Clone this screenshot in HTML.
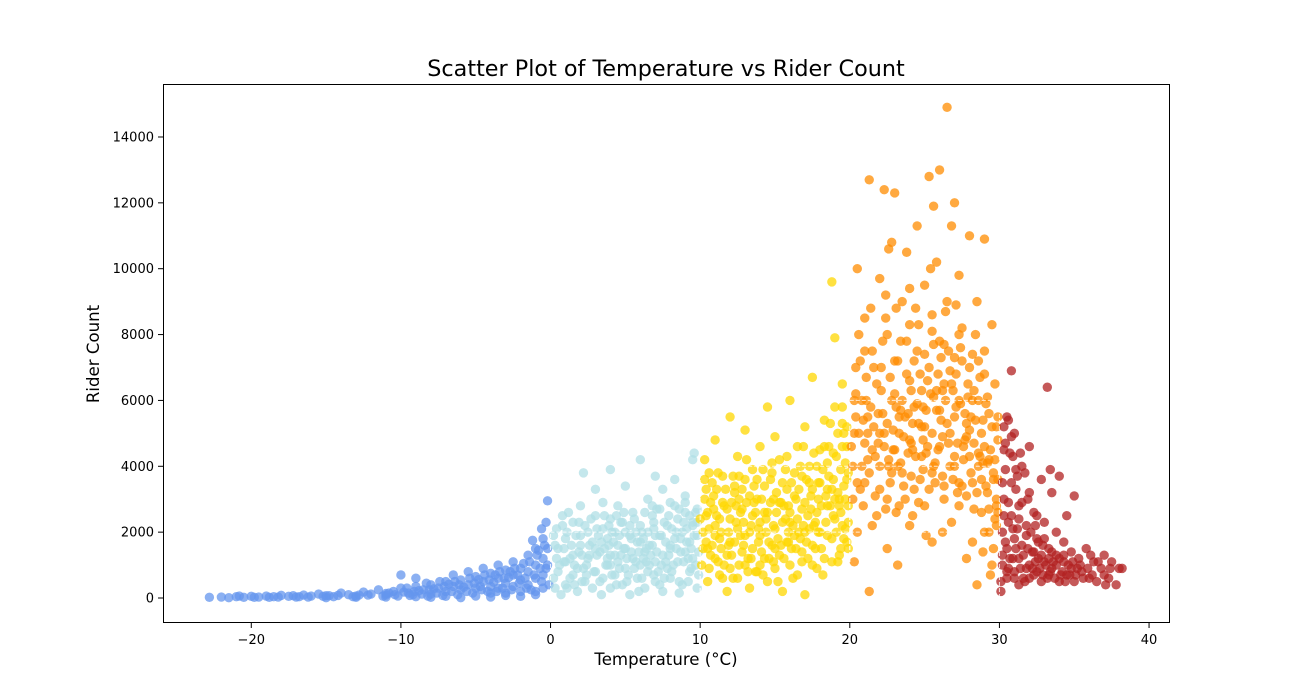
<!DOCTYPE html>
<html><head><meta charset="utf-8">
<style>
body{margin:0;background:#fff;}
svg{display:block;font-family:"DejaVu Sans","Liberation Sans",sans-serif;}
</style></head>
<body>
<svg id="chart" width="1300" height="700">
<rect width="1300" height="700" fill="#fff"/>
<text x="666" y="76" text-anchor="middle" font-size="22.3" fill="#000">Scatter Plot of Temperature vs Rider Count</text>
<g id="points"></g>
<g id="boxes"></g>
<rect x="163.5" y="84.5" width="1006" height="538" fill="none" stroke="#000" stroke-width="1"/>
<g id="xaxis"></g>
<g id="yaxis"></g>
<text x="666" y="665" text-anchor="middle" font-size="16.6">Temperature (°C)</text>
<text transform="translate(99,354) rotate(-90)" text-anchor="middle" font-size="16.6">Rider Count</text>
</svg>
<script>
const xTicks=[-20,-10,0,10,20,30,40];
const yTicks=[0,2000,4000,6000,8000,10000,12000,14000];
const bandColors=["#6495ed","#b0dfe5","#ffd700","#ff8c00","#b22222"];
const coldPts=[[-22.8,20],[-22,30],[-21.5,10],[-21,40],[-20.5,20],[-20,50],[-19.5,30],[-19,60],[-18.5,40],[-18,80],[-17.5,50],[-17,30],[-16.5,90],[-16,60],[-15.5,120],[-15,70],[-14.5,40],[-14,150],[-13.5,100],[-13,60],[-12.5,180],[-12,120],[-11.5,250],[-11,90],[-10.5,200],[-10,300],[-10,700],[-9.5,150],[-9,350],[-9,600],[-8.5,250],[-8,400],[-8,120],[-7.5,300],[-7,500],[-7,200],[-6.5,700],[-6.5,350],[-6,250],[-6,550],[-5.5,800],[-5.5,400],[-5,300],[-5,650],[-4.5,900],[-4.5,500],[-4,350],[-4,750],[-4,150],[-3.5,1000],[-3.5,600],[-3.5,300],[-3,850],[-3,450],[-3,150],[-2.5,1100],[-2.5,700],[-2.5,350],[-2,900],[-2,550],[-2,200],[-1.5,1300],[-1.5,800],[-1.5,400],[-1,1500],[-1,1000],[-1,600],[-1,200],[-0.5,1800],[-0.5,1200],[-0.5,700],[-0.3,2300],[-0.2,2950],[-0.5,300],[-1.8,1050],[-2.8,620],[-3.8,480],[-4.8,560],[-5.8,330],[-6.8,420],[-7.8,280],[-8.8,220],[-9.8,180],[-11,140],[-12.8,90],[-14.8,70],[-16.8,40],[-18.8,20],[-1.2,1750],[-0.8,1450],[-15,10],[-13,20],[-11,30],[-9,40],[-7,50],[-5,60],[-3,80],[-1,100],[-8,20],[-6,10],[-4,30],[-2,50],[-0.3,900],[-0.2,1500],[-0.6,500],[-1.3,250],[-2.2,700],[-3.2,300],[-4.2,200],[-5.2,150],[-6.2,100],[-7.2,80],[-8.2,60],[-9.2,100],[-10.2,60]];
const coldExtra=[[-20.8,60],[-19.8,20],[-18.2,30],[-17.2,70],[-16.2,30],[-15.2,50],[-14.2,80],[-13.2,40],[-12.2,90],[-11.2,60],[-10.8,150],[-10.4,100],[-9.6,300],[-9.4,80],[-8.6,120],[-8.3,450],[-7.6,150],[-7.4,500],[-6.6,200],[-6.4,500],[-5.6,200],[-5.4,600],[-4.6,250],[-4.4,700],[-3.6,200],[-3.4,800],[-2.6,250],[-2.4,900],[-1.6,300],[-1.4,1100],[-0.7,900],[-0.4,1600],[-0.2,1000],[-0.1,400],[-1.1,700],[-2.1,450],[-3.1,600],[-4.1,550],[-5.1,450],[-6.1,400],[-7.1,350],[-8.1,250],[-9.1,200],[-0.9,1300],[-0.6,2100],[-1.7,600],[-2.7,800],[-3.7,700],[-4.7,350]];
const coolPts=[[0.3,300],[0.5,800],[0.5,1500],[0.8,2200],[1,400],[1,1100],[1,1800],[1.3,600],[1.5,1300],[1.5,2300],[1.8,200],[1.8,900],[2,1600],[2,2800],[2.2,3800],[2.3,500],[2.5,1200],[2.5,2000],[2.8,300],[2.8,1700],[3,800],[3,2500],[3,3300],[3.3,1400],[3.5,600],[3.5,2100],[3.5,2900],[3.8,1000],[3.8,1800],[4,300],[4,1300],[4,2400],[4,3900],[4.3,700],[4.3,2000],[4.5,1100],[4.5,1600],[4.5,2800],[4.8,400],[4.8,2300],[5,900],[5,1500],[5,3400],[5.3,1900],[5.3,100],[5.5,1200],[5.5,2600],[5.8,600],[5.8,1700],[6,2200],[6,1000],[6,4200],[6.3,1400],[6.3,300],[6.5,2000],[6.5,800],[6.5,3000],[6.8,1600],[6.8,2500],[7,1100],[7,500],[7,3700],[7.3,1900],[7.3,2700],[7.5,1300],[7.5,200],[7.5,3300],[7.8,900],[7.8,2200],[8,1500],[8,2900],[8,600],[8.3,1800],[8.3,3600],[8.5,1100],[8.5,2400],[8.8,400],[8.8,2000],[9,1400],[9,3100],[9,2600],[9.3,800],[9.3,1700],[9.5,2300],[9.5,4200],[9.5,1200],[9.8,2700],[9.8,300],[9.8,1900],[9.6,4400],[1.2,2600],[2.7,2400],[3.7,1000],[4.7,1300],[5.7,2000],[6.7,1300],[7.7,1700],[8.7,1400],[9.7,1000],[0.4,1200],[0.2,1900],[1.6,1000],[2.4,700],[3.2,1900],[4.2,1700],[5.2,700],[6.2,1800],[7.2,800],[8.2,1000],[9.2,500],[0.7,100],[3.4,100],[5.9,200],[8.6,150],[4.4,2500],[6.9,2300],[2.1,1300],[7.9,2500],[9.1,2100],[1.4,1600],[3.9,1600],[5.4,1400],[6.4,1100],[8.4,2000],[9.4,1500]];
const coolExtra=[[0.2,600],[0.4,2100],[0.6,1000],[0.9,1500],[1.1,300],[1.1,2000],[1.3,1200],[1.5,700],[1.7,1900],[1.9,1400],[2.1,500],[2.3,2200],[2.4,1000],[2.6,1600],[2.9,800],[3.1,1300],[3.1,2100],[3.3,500],[3.6,1500],[3.6,2500],[3.8,1200],[4.1,700],[4.1,2000],[4.3,1300],[4.6,900],[4.6,1900],[4.9,1500],[4.9,2600],[5.1,500],[5.1,1200],[5.4,1800],[5.6,900],[5.6,2400],[5.9,1400],[6.1,600],[6.1,2000],[6.3,2600],[6.6,1000],[6.6,1600],[6.9,700],[6.9,2100],[7.1,1400],[7.1,2700],[7.4,1000],[7.4,1900],[7.6,2300],[7.6,600],[7.9,1300],[8.1,2100],[8.1,800],[8.4,1500],[8.6,2700],[8.6,500],[8.9,1100],[8.9,2300],[9.1,1700],[9.3,2500],[9.4,900],[9.6,1900],[9.7,2600],[9.9,1400],[9.9,700],[0.3,1600],[0.8,2500],[1.9,2300],[2.2,900],[3.4,1700],[4.4,400],[5.3,2200],[6.8,2800],[7.3,400],[8.3,2800],[9.2,1200],[2.6,1300],[3.9,2200],[5.7,1100],[6.4,1500],[7.7,1100],[8.7,1800],[1.6,400],[4.7,2300],[6.2,1200],[9.0,2900],[0.9,1100],[2.0,1900],[3.0,1500],[4.0,1000],[5.0,2000],[6.0,1700],[7.0,1900],[8.0,1600],[9.5,2200],[9.8,2300]];
const mildPts=[[10.1,1000],[10.2,2000],[10.3,3000],[10.3,4200],[10.5,500],[10.5,1500],[10.5,2600],[10.8,3500],[11,1200],[11,2200],[11,4800],[11.3,700],[11.3,1800],[11.5,2900],[11.5,3700],[11.8,1300],[11.8,200],[12,2400],[12,5500],[12,900],[12.3,1700],[12.3,3200],[12.5,4300],[12.5,600],[12.5,2100],[12.8,1400],[12.8,2700],[13,3600],[13,1000],[13,5100],[13.3,2000],[13.3,300],[13.5,2500],[13.5,1500],[13.5,3900],[13.8,800],[13.8,3000],[14,1900],[14,4600],[14,2300],[14.3,1200],[14.3,3400],[14.5,500],[14.5,2600],[14.5,5800],[14.8,1600],[14.8,3800],[15,2100],[15,900],[15,4900],[15.3,2900],[15.3,1300],[15.5,3500],[15.5,200],[15.5,2300],[15.8,1700],[15.8,4300],[16,2600],[16,1000],[16,6000],[16.3,3100],[16.3,1900],[16.5,4600],[16.5,700],[16.5,2400],[16.8,3700],[16.8,1400],[17,2900],[17,5200],[17,100],[17.3,2100],[17.3,4000],[17.5,1600],[17.5,3300],[17.5,6700],[17.8,2600],[17.8,900],[18,4500],[18,2000],[18,3500],[18.3,1200],[18.3,5400],[18.5,2800],[18.5,4100],[18.8,9600],[18.8,1800],[18.8,3300],[19,2400],[19,5800],[19,7900],[19.3,3000],[19.3,1300],[19.5,4600],[19.5,2200],[19.5,6500],[19.8,3600],[19.8,1700],[19.8,5200],[19.9,2800],[19.7,4100],[10.6,3800],[11.6,1000],[12.6,3700],[13.6,2900],[14.6,1200],[15.6,2800],[16.6,3300],[17.6,2200],[18.6,3700],[19.6,3400],[10.9,2700],[11.9,2000],[12.9,2300],[13.9,1700],[14.9,3000],[15.9,2000],[16.9,2200],[17.9,3000],[18.9,2500],[19.9,1500],[10.4,1700],[11.4,1500],[12.4,2800],[13.4,1200],[14.4,2000],[15.4,1600],[16.4,1500],[17.4,2700],[18.4,2300],[19.4,3900],[11.1,3300],[12.2,600],[14.2,700],[16.2,600],[18.2,700],[19.2,1100],[17.2,1200],[15.2,500],[13.2,800],[10.7,1300],[19.6,5000],[18.9,4400],[19.3,2800],[12.7,1900],[16.7,1800]];
const mildExtra=[[10.2,1500],[10.4,2500],[10.4,3300],[10.6,900],[10.6,2100],[10.8,1600],[10.9,3100],[11.1,2500],[11.2,1100],[11.2,3800],[11.4,2000],[11.5,600],[11.6,2800],[11.7,3300],[11.9,1600],[12.1,2900],[12.1,1300],[12.2,3700],[12.4,2300],[12.6,1000],[12.6,3000],[12.7,2600],[12.9,1600],[13.1,2900],[13.1,4200],[13.2,1200],[13.4,2200],[13.6,3400],[13.7,800],[13.7,2600],[13.9,2100],[14.1,3000],[14.1,1400],[14.2,3900],[14.4,2400],[14.6,1700],[14.7,2900],[14.7,3600],[14.9,1100],[15.1,2600],[15.1,3200],[15.2,1800],[15.4,2900],[15.6,1200],[15.7,3900],[15.7,2400],[15.9,2800],[16.1,1500],[16.1,3500],[16.2,2200],[16.4,3000],[16.6,2000],[16.7,4000],[16.8,2700],[17.1,1700],[17.1,3600],[17.2,2500],[17.4,3100],[17.5,1000],[17.6,4400],[17.7,2300],[17.9,3500],[18.1,2800],[18.1,1500],[18.2,3900],[18.4,3100],[18.5,1900],[18.6,4600],[18.7,2800],[18.9,3600],[19.1,2000],[19.1,4300],[19.2,3200],[19.4,2600],[19.5,5300],[19.6,1800],[19.7,3000],[19.8,4600],[19.9,3800],[19.9,2300],[19.5,5800],[19.2,5000],[18.7,5300],[18.3,4600],[17.8,4000],[17.3,3500],[16.9,4600],[16.3,3800],[15.8,3300],[15.3,4200],[14.8,4100],[14.3,2600],[13.3,3100],[12.3,3400],[11.3,2400],[10.3,3600],[10.7,2900],[11.8,2700],[12.8,3300],[13.8,3600],[14.9,2200],[15.9,1700],[16.8,1100],[17.7,1500],[18.8,1100],[19.4,1500],[19.7,2100],[19.0,3000],[18.5,3300],[17.9,2000],[17.0,2000],[16.0,2300],[15.0,1500],[14.0,1000],[13.0,1900],[12.0,1700],[11.0,1900],[10.0,2400]];
const warmPts=[[20.2,3000],[20.3,5000],[20.4,7000],[20.5,10000],[20.5,2000],[20.8,4000],[20.8,6000],[21,8500],[21,3500],[21.2,5500],[21.3,12700],[21.3,200],[21.5,4500],[21.5,7500],[21.8,2500],[21.8,6500],[22,9700],[22,4000],[22.3,12400],[22.3,5000],[22.5,3000],[22.5,8000],[22.5,1500],[22.8,6000],[22.8,10800],[23,4500],[23,12300],[23,7200],[23.3,2800],[23.3,5500],[23.5,9000],[23.5,3800],[23.8,6800],[23.8,10500],[24,4800],[24,2200],[24,8300],[24.3,5800],[24.3,3300],[24.5,7500],[24.5,11300],[24.8,4300],[24.8,6300],[25,9500],[25,2800],[25,5200],[25.3,12800],[25.3,7000],[25.5,3800],[25.5,8600],[25.5,1700],[25.8,5700],[25.8,10200],[26,13000],[26,4600],[26,7800],[26.3,3000],[26.3,6500],[26.5,9000],[26.5,14900],[26.7,5000],[26.8,11300],[26.8,2300],[27,7300],[27,4000],[27,12000],[27.3,6000],[27.3,9800],[27.5,3400],[27.5,8200],[27.8,5300],[27.8,1200],[28,11000],[28,7000],[28,4300],[28.3,2700],[28.3,6300],[28.5,9000],[28.5,400],[28.8,5000],[28.8,3600],[29,10900],[29,7500],[29,2000],[29.3,5600],[29.3,4200],[29.5,8300],[29.5,1000],[29.7,6500],[29.8,3000],[29.9,4800],[20.3,1100],[20.6,8000],[21.1,6000],[21.6,5200],[22.1,7000],[22.6,4200],[23.1,5800],[23.6,4900],[24.1,6300],[24.6,5300],[25.1,4400],[25.6,6100],[26.1,5400],[26.6,4700],[27.1,5800],[27.6,4600],[28.1,5500],[28.6,4400],[29.1,5900],[29.6,3800],[20.7,3300],[21.2,4200],[21.7,3100],[22.2,5600],[22.7,3500],[23.2,4000],[23.7,3000],[24.2,4500],[24.7,3600],[25.2,6600],[25.7,4100],[26.2,3700],[26.7,6900],[27.2,3200],[27.7,4800],[28.2,3500],[28.7,6700],[29.2,3200],[29.7,2400],[20.9,5400],[21.9,4700],[22.9,5100],[23.9,5600],[24.9,5800],[25.9,6800],[26.9,6300],[27.9,6100],[28.9,4100],[29.9,5500],[22.4,9200],[23.4,7800],[24.4,8800],[25.4,10000],[26.4,8700],[27.4,7600],[28.4,8000],[24.2,2500],[26.2,2000],[28.2,1700],[23.2,1000],[25.1,1900],[27.3,2800],[29.4,700],[20.1,4600],[20.4,6200],[21.4,8800],[22.6,10600],[24.0,9400],[25.6,11900],[27.1,8900],[28.6,7200],[29.8,2200],[29.8,5200]];
const warmExtra=[[20.2,4000],[20.3,6000],[20.5,3500],[20.6,5000],[20.7,7200],[20.9,2800],[21.0,4700],[21.1,6700],[21.3,3800],[21.4,5800],[21.5,2200],[21.6,7000],[21.7,4300],[21.9,5600],[22.0,3300],[22.1,6300],[22.2,7800],[22.3,4600],[22.4,2700],[22.5,5300],[22.7,6700],[22.8,3800],[22.9,4500],[23.0,6200],[23.1,2600],[23.2,7200],[23.3,5000],[23.4,4100],[23.5,6000],[23.6,3400],[23.7,5500],[23.8,7800],[23.9,4400],[24.0,6600],[24.1,3700],[24.2,5300],[24.3,7200],[24.4,4300],[24.5,5900],[24.6,2900],[24.7,6800],[24.8,5200],[24.9,3900],[25.0,7400],[25.1,5700],[25.2,4600],[25.3,3300],[25.4,6200],[25.5,5000],[25.6,7700],[25.7,3500],[25.8,6300],[25.9,4500],[26.0,5700],[26.1,7300],[26.2,4900],[26.3,3400],[26.4,6000],[26.5,5300],[26.6,7500],[26.7,4000],[26.8,6500],[26.9,3600],[27.0,5500],[27.1,6800],[27.2,4700],[27.3,3500],[27.4,5900],[27.5,7200],[27.6,4200],[27.7,5600],[27.8,3100],[27.9,6500],[28.0,5100],[28.1,3800],[28.2,6000],[28.3,4700],[28.4,5400],[28.5,3200],[28.6,6000],[28.7,4300],[28.8,2600],[28.9,5400],[29.0,4600],[29.1,3400],[29.2,6100],[29.3,2700],[29.4,4500],[29.5,5200],[29.6,3600],[29.7,4200],[29.8,2800],[29.9,3600],[20.4,5500],[21.2,5000],[22.0,5000],[22.6,4000],[23.4,5700],[24.1,4700],[24.9,4800],[25.6,4000],[26.2,6300],[27.0,4300],[27.8,4900],[28.6,4000],[29.2,4100],[29.9,2600],[29.6,1500],[29.3,2000],[28.9,1400],[21.0,7500],[22.4,8500],[23.1,8800],[24.6,8300],[25.5,8100],[26.3,7700],[27.3,8000],[28.2,7400],[29.0,6800]];
const hotPts=[[30.1,200],[30.2,1000],[30.2,2000],[30.3,3000],[30.3,4500],[30.5,5500],[30.5,600],[30.5,1500],[30.8,2500],[30.8,6900],[30.8,3500],[31,800],[31,1800],[31,5000],[31.3,1200],[31.3,2800],[31.3,400],[31.5,4000],[31.5,1600],[31.8,900],[31.8,2200],[32,3200],[32,600],[32,4600],[32.3,1400],[32.3,2600],[32.5,800],[32.5,1800],[32.8,3600],[32.8,500],[33,1100],[33,2300],[33.2,6400],[33.3,700],[33.3,1500],[33.5,3200],[33.5,900],[33.8,1300],[33.8,2000],[34,500],[34,3700],[34.3,1100],[34.3,1700],[34.5,700],[34.5,2500],[34.8,1400],[34.8,900],[35,3100],[35,500],[35.3,1200],[35.5,800],[35.8,1500],[36,600],[36.3,1100],[36.5,500],[36.8,900],[37,1300],[37.3,600],[37.5,1100],[37.8,400],[38,900],[38.2,900],[30.4,3900],[30.6,2300],[30.9,1200],[31.2,2100],[31.6,600],[31.9,1500],[32.2,900],[32.6,1200],[32.9,1600],[33.6,1100],[34.2,800],[35.2,900],[30.3,5200],[30.7,4400],[31.1,3300],[31.7,3800],[32.4,2200],[33.4,3900],[36.1,1300],[37.1,400],[30.2,1300],[30.6,900]];
const hotExtra=[[30.1,500],[30.2,3500],[30.3,2500],[30.4,1700],[30.5,800],[30.6,2900],[30.7,1200],[30.8,4900],[30.9,2100],[31.0,600],[31.1,1500],[31.2,3700],[31.3,2400],[31.4,900],[31.5,2900],[31.6,1300],[31.7,500],[31.8,1900],[31.9,3000],[32.0,1000],[32.1,2000],[32.2,1400],[32.3,700],[32.4,1100],[32.5,2500],[32.6,1700],[32.7,900],[32.8,1300],[32.9,700],[33.0,1800],[33.1,1000],[33.2,600],[33.3,1200],[33.4,800],[33.5,1400],[33.7,600],[33.8,1000],[34.0,1200],[34.1,700],[34.3,1300],[34.4,500],[34.6,1000],[34.7,700],[34.9,1100],[35.1,700],[35.4,1000],[35.6,600],[35.9,900],[36.2,700],[36.6,1100],[37.0,700],[37.4,900],[30.4,4700],[30.9,4300],[31.4,4400],[30.6,5400],[31.1,3900]];
const bands=[coldPts.concat(coldExtra),coolPts.concat(coolExtra),mildPts.concat(mildExtra),warmPts.concat(warmExtra),hotPts.concat(hotExtra)];
const bandNames=["cold","cool","mild","warm","hot"];
const x0=163,x1=1170,xMin=-25.9,xMax=41.4;
const y0=623,y1=84,yMin=-759,yMax=15609;
function xs(v){return x0+(v-xMin)/(xMax-xMin)*(x1-x0);}
function ys(v){return y0-(v-yMin)/(yMax-yMin)*(y0-y1);}
const NS="http://www.w3.org/2000/svg";
const pg=document.getElementById('points');
bands.forEach((pts,bi)=>{
  pts.forEach(p=>{
    const c=document.createElementNS(NS,'circle');
    c.setAttribute('cx',xs(p[0]));c.setAttribute('cy',ys(p[1]));c.setAttribute('r',4.7);
    c.setAttribute('fill',bandColors[bi]);c.setAttribute('fill-opacity',0.75);
    
    
    pg.appendChild(c);
  });
});
const bg=document.getElementById('boxes');
const guides=[[0,10,[2000]],[10,20,[2000,4000]],[20,30,[2000,4000,6000]]];
guides.forEach(g=>{
  const top=Math.max(...g[2]);
  const segs=[[g[0],0,g[0],top],[g[1],0,g[1],top]];
  g[2].forEach(v=>segs.push([g[0],v,g[1],v]));
  segs.forEach(s=>{
    const l=document.createElementNS(NS,'line');
    l.setAttribute('x1',xs(s[0]));l.setAttribute('y1',ys(s[1]));l.setAttribute('x2',xs(s[2]));l.setAttribute('y2',ys(s[3]));
    l.setAttribute('stroke','#fff');l.setAttribute('stroke-width',1);l.setAttribute('stroke-dasharray','4,2');l.setAttribute('stroke-opacity',0.8);
    
    
    bg.appendChild(l);
  });
});
const xg=document.getElementById('xaxis');
xTicks.forEach(t=>{
  const X=xs(t);
  const l=document.createElementNS(NS,'line');
  l.setAttribute('x1',X);l.setAttribute('x2',X);l.setAttribute('y1',623);l.setAttribute('y2',628);l.setAttribute('stroke','#000');
  
  
  xg.appendChild(l);
  const tx=document.createElementNS(NS,'text');
  tx.setAttribute('x',X);tx.setAttribute('y',644);tx.setAttribute('text-anchor','middle');tx.setAttribute('font-size','13');
  tx.textContent=(t<0?'\u2212'+(-t):t);
  
  
  xg.appendChild(tx);
});
const yg=document.getElementById('yaxis');
yTicks.forEach(t=>{
  const Y=ys(t);
  const l=document.createElementNS(NS,'line');
  l.setAttribute('x1',158);l.setAttribute('x2',163);l.setAttribute('y1',Y);l.setAttribute('y2',Y);l.setAttribute('stroke','#000');
  
  
  yg.appendChild(l);
  const tx=document.createElementNS(NS,'text');
  tx.setAttribute('x',154);tx.setAttribute('y',Y+4.5);tx.setAttribute('text-anchor','end');tx.setAttribute('font-size','13');
  tx.textContent=t;
  
  
  yg.appendChild(tx);
});
</script>
</body></html>
